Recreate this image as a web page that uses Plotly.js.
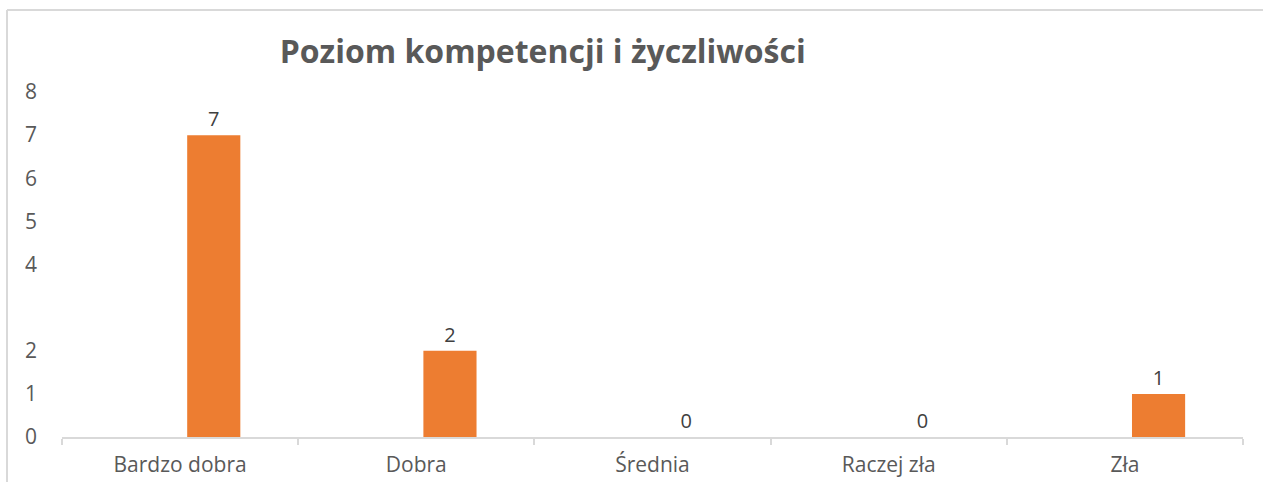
<!DOCTYPE html>
<html>
<head>
<meta charset="utf-8">
<script src="https://cdn.plot.ly/plotly-3.0.1.min.js"></script>
<style>html,body{margin:0;padding:0;background:#fff;}#chart{width:1263px;height:482px;}</style>
</head>
<body>
<div id="chart"></div>
<script>
const categories = ["Bardzo dobra", "Dobra", "Średnia", "Raczej zła", "Zła"];
const values = [7, 2, 0, 0, 1];
const yTickValues = [0, 1, 2, 4, 5, 6, 7, 8];
const yTickLabels = ["0", "1", "2", "4", "5", "6", "7", "8"];
const chartTitle = "Poziom kompetencji i życzliwości";

const FONT = "'Open Sans', 'Noto Sans', sans-serif";
const GRID = "#d9d9d9";

const trace = {
  type: "bar",
  x: categories,
  y: values,
  text: values.map(String),
  textposition: "outside",
  cliponaxis: false,
  textfont: {family: FONT, size: 20, color: "#404040"},
  marker: {color: "#ED7D31", line: {width: 0}},
  width: 0.225,
  offset: 0.03,
  hoverinfo: "x+y"
};

const layout = {
  width: 1263,
  height: 482,
  margin: {l: 62, r: 20, t: 92, b: 45},
  paper_bgcolor: "#ffffff",
  plot_bgcolor: "#ffffff",
  showlegend: false,
  font: {family: FONT, color: "#595959"},
  title: {
    text: "<b>" + chartTitle + "</b>",
    font: {family: FONT, size: 32, color: "#595959"},
    xref: "paper", x: 0.407, xanchor: "center",
    yref: "container", y: 0.893, yanchor: "middle"
  },
  xaxis: {
    type: "category",
    range: [-0.5, 4.5],
    showgrid: false,
    showline: true, linecolor: GRID, linewidth: 2,
    ticks: "outside", tickson: "boundaries", ticklen: 6, tickcolor: GRID, tickwidth: 2,
    tickfont: {family: FONT, size: 21, color: "#595959"},
    ticklabelstandoff: 8,
    zeroline: false, fixedrange: true
  },
  yaxis: {
    range: [0, 8],
    tickmode: "array",
    tickvals: yTickValues,
    ticktext: yTickLabels,
    showgrid: false,
    showline: false,
    zeroline: false,
    ticks: "",
    tickfont: {family: FONT, size: 21, color: "#595959"},
    ticklabelstandoff: 24,
    fixedrange: true
  },
  shapes: [
    {type: "line", xref: "paper", yref: "paper",
     x0: (7 - 62) / 1181, x1: (1263 - 62) / 1181, y0: (437 - 10) / 345, y1: (437 - 10) / 345,
     line: {color: GRID, width: 2}},
    {type: "line", xref: "paper", yref: "paper",
     x0: (7 - 62) / 1181, x1: (7 - 62) / 1181, y0: (437 - 10) / 345, y1: (437 - 482) / 345,
     line: {color: GRID, width: 2}}
  ]
};

Plotly.newPlot("chart", [trace], layout, {displayModeBar: false, staticPlot: true});
</script>
</body>
</html>
